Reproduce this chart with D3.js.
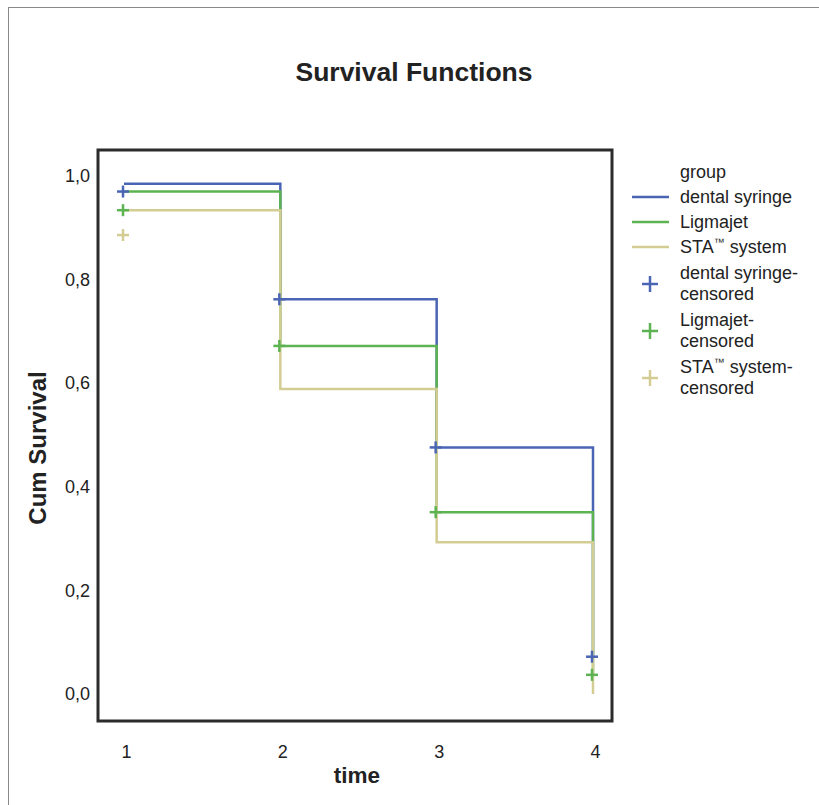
<!DOCTYPE html>
<html><head><meta charset="utf-8">
<script src="https://cdn.jsdelivr.net/npm/d3@7"></script>
<style>body{margin:0;background:#fff;} svg{display:block;font-family:"Liberation Sans",Arial,sans-serif;}</style>
</head><body>
<script>
const times = [1, 2, 3, 4];
const groups = ["dental syringe", "Ligmajet", "STA\u2122 system"];
const colors = ["#4b65b5", "#5db352", "#d3cd94"];
// survival level starting at each time point (last = end value at t=4)
const survDental = [0.985, 0.762, 0.476, 0.072];
const survLigmajet = [0.970, 0.672, 0.351, 0.037];
const survSTA = [0.934, 0.589, 0.293, 0.000];
// censored marks [time, value]
const censDental = [[1, 0.970], [2, 0.762], [3, 0.476], [4, 0.072]];
const censLigmajet = [[1, 0.934], [2, 0.672], [3, 0.351], [4, 0.037]];
const censSTA = [[1, 0.886]];
const yTicks = [0, 0.2, 0.4, 0.6, 0.8, 1.0];

const survs = [survDental, survLigmajet, survSTA];
const cens = [censDental, censLigmajet, censSTA];

const W = 819, H = 805;
const svg = d3.select("body").append("svg").attr("width", W).attr("height", H);

// outer border
svg.append("rect").attr("x", 8.5).attr("y", 7.5).attr("width", W).attr("height", H)
  .attr("fill", "none").attr("stroke", "#8a8a8a").attr("stroke-width", 1);

const x = d3.scaleLinear().domain([1, 4]).range([124, 593]);
const y = d3.scaleLinear().domain([0, 1]).range([694, 176]);

// frame
svg.append("rect").attr("x", 98).attr("y", 150).attr("width", 514).attr("height", 571)
  .attr("fill", "none").attr("stroke", "#2b2b2b").attr("stroke-width", 3);

// title
svg.append("text").attr("x", 414).attr("y", 81).attr("text-anchor", "middle")
  .attr("font-size", 26.5).attr("font-weight", "bold").attr("fill", "#222").text("Survival Functions");

// y axis labels
const yAxis = d3.axisLeft(y).tickValues(yTicks).tickSize(0).tickPadding(0)
  .tickFormat(d => d3.format(".1f")(d).replace(".", ","));
const gy = svg.append("g").attr("transform", "translate(90,0)").call(yAxis);
gy.select(".domain").remove();
gy.selectAll("text").attr("font-size", 18).attr("fill", "#222").attr("font-family", "Liberation Sans, Arial, sans-serif");

// x axis labels
const xAxis = d3.axisBottom(x).tickValues(times).tickSize(0).tickPadding(0).tickFormat(d3.format("d"));
const gx = svg.append("g").attr("transform", "translate(2,745)").call(xAxis);
gx.select(".domain").remove();
gx.selectAll("text").attr("font-size", 18).attr("fill", "#222").attr("font-family", "Liberation Sans, Arial, sans-serif");

// axis titles
svg.append("text").attr("x", 357).attr("y", 783).attr("text-anchor", "middle")
  .attr("font-size", 22.5).attr("font-weight", "bold").attr("fill", "#222").text("time");
svg.append("text").attr("transform", "translate(46,448) rotate(-90)").attr("text-anchor", "middle")
  .attr("font-size", 24).attr("font-weight", "bold").attr("fill", "#222").text("Cum Survival");

// step lines
const line = d3.line().x(d => x(d[0])).y(d => y(d[1]));
survs.forEach((s, gi) => {
  const pts = [];
  for (let i = 0; i < times.length - 1; i++) {
    pts.push([times[i], s[i]]);
    pts.push([times[i + 1], s[i]]);
  }
  pts.push([times[times.length - 1], s[s.length - 1]]);
  svg.append("path").attr("d", line(pts)).attr("fill", "none")
    .attr("stroke", colors[gi]).attr("stroke-width", 2.5);
});

// censor marks
function plus(g, cx, cy, color, half) {
  g.append("line").attr("x1", cx - half).attr("x2", cx + half).attr("y1", cy).attr("y2", cy)
    .attr("stroke", color).attr("stroke-width", 2.5);
  g.append("line").attr("x1", cx).attr("x2", cx).attr("y1", cy - half).attr("y2", cy + half)
    .attr("stroke", color).attr("stroke-width", 2.5);
}
const gm = svg.append("g");
cens.forEach((c, gi) => {
  c.forEach(d => plus(gm, x(d[0]) - 1, y(d[1]), colors[gi], 6));
});

// legend text with small raised ™
function legendText(g, xx, yy, str) {
  const t = g.append("text").attr("x", xx).attr("y", yy);
  const parts = str.split("\u2122");
  parts.forEach((p, i) => {
    if (i > 0) {
      t.append("tspan").attr("font-size", 11).attr("dy", -7).text("\u2122");
      t.append("tspan").attr("dy", 7).text(p);
    } else {
      t.append("tspan").text(p);
    }
  });
}
const lg = svg.append("g").attr("font-size", 18).attr("fill", "#222");
lg.append("text").attr("x", 680).attr("y", 178).text("group");
const lineRows = [197, 222, 247];
groups.forEach((g, i) => {
  lg.append("line").attr("x1", 632).attr("x2", 669).attr("y1", lineRows[i]).attr("y2", lineRows[i])
    .attr("stroke", colors[i]).attr("stroke-width", 2.5);
  legendText(lg, 680, lineRows[i] + 6, g);
});
const censRows = [284, 331, 378];
groups.forEach((g, i) => {
  plus(lg, 650, censRows[i], colors[i], 8);
  legendText(lg, 680, censRows[i] - 5, g + "-");
  lg.append("text").attr("x", 680).attr("y", censRows[i] + 16).text("censored");
});
</script>
</body></html>
